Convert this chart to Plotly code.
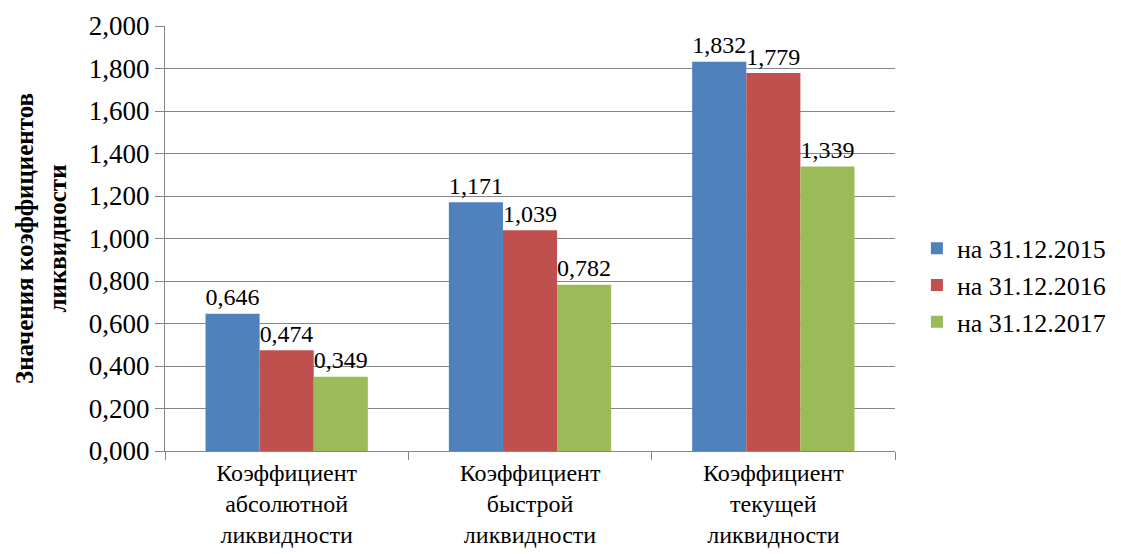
import plotly.graph_objects as go

# Liquidity ratios by reporting date
categories = [
    "Коэффициент<br>абсолютной<br>ликвидности",
    "Коэффициент<br>быстрой<br>ликвидности",
    "Коэффициент<br>текущей<br>ликвидности",
]
series_names = ["на 31.12.2015", "на 31.12.2016", "на 31.12.2017"]
values_2015 = [0.646, 1.171, 1.832]
values_2016 = [0.474, 1.039, 1.779]
values_2017 = [0.349, 0.782, 1.339]
colors = ["#4F81BD", "#C0504D", "#9BBB59"]
y_ticks = [0.0, 0.2, 0.4, 0.6, 0.8, 1.0, 1.2, 1.4, 1.6, 1.8, 2.0]

FONT = "Liberation Serif"

fig = go.Figure()
for name, vals, col in zip(series_names, [values_2015, values_2016, values_2017], colors):
    fig.add_trace(go.Bar(
        x=categories, y=vals, name=name,
        marker=dict(color=col, line=dict(width=0)),
        texttemplate="%{y:.3f}", textposition="outside",
        textfont=dict(family=FONT, size=27, color="#000000"),
        cliponaxis=False,
    ))

fig.update_layout(
    width=1121, height=554,
    margin=dict(l=165, r=226, t=26, b=103, autoexpand=False),
    paper_bgcolor="white", plot_bgcolor="white",
    barmode="group", bargap=0.333, bargroupgap=0,
    separators=", ",
    font=dict(family=FONT, size=26, color="#000000"),
    showlegend=True,
    legend=dict(
        x=1.03, xanchor="left", y=0.39, yanchor="middle",
        font=dict(family=FONT, size=26, color="#000000"),
        itemsizing="constant", traceorder="normal",
    ),
    xaxis=dict(
        automargin=False,
        showline=True, linecolor="#868686", linewidth=1,
        ticks="outside", tickson="boundaries", ticklen=8, tickcolor="#868686",
        tickfont=dict(family=FONT, size=24),
        showgrid=False,
    ),
    yaxis=dict(
        automargin=False,
        range=[0, 2.0], tickvals=y_ticks, tickformat=".3f",
        showline=True, linecolor="#868686", linewidth=1,
        ticks="outside", ticklen=9, tickcolor="#868686",
        showgrid=True, gridcolor="#868686", gridwidth=1,
        zeroline=False,
        tickfont=dict(family=FONT, size=27),
        title=dict(
            text="<b>Значения коэффициентов<br>ликвидности</b>",
            font=dict(family=FONT, size=25),
        ),
    ),
)

fig.write_html("out.html")
